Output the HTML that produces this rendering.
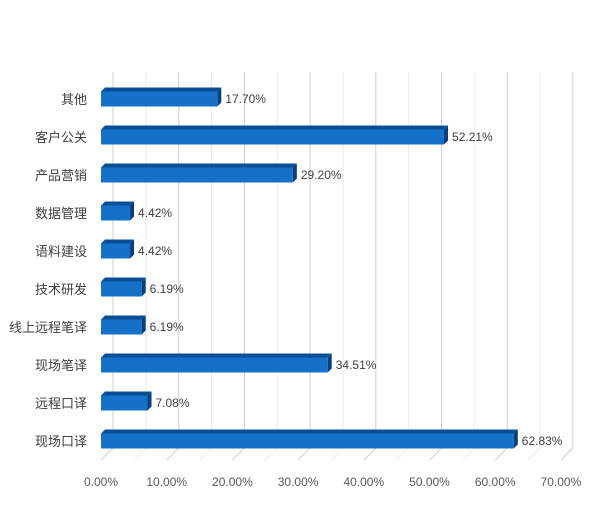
<!DOCTYPE html>
<html><head><meta charset="utf-8"><style>
body{margin:0;background:#fff}
svg{font-family:"Liberation Sans","Noto Sans CJK SC",sans-serif}
</style></head><body>
<svg id="c" width="600" height="510"></svg>
<script>
const categories=["其他","客户公关","产品营销","数据管理","语料建设","技术研发","线上远程笔译","现场笔译","远程口译","现场口译"];
const values=[17.70,52.21,29.20,4.42,4.42,6.19,6.19,34.51,7.08,62.83];
const ticks=[0,10,20,30,40,50,60,70];
const NS="http://www.w3.org/2000/svg";
const svg=document.getElementById('c');
const x0=101,pxPer=6.57,dx=12,dy=-12,yTop=84,yFloor=460,row=38,y0=99,bh=15,d=4;
const X=v=>x0+v*pxPer;
const Y=i=>y0+i*row;
function mk(t,a,p){const e=document.createElementNS(NS,t);for(const k in a)e.setAttribute(k,a[k]);(p||svg).appendChild(e);return e;}
const grid=mk('g',{});


for(let v=0;v<=70;v+=5){
  const major=v%10===0;
  const l=mk('line',{x1:X(v)+dx,y1:yTop-12,x2:X(v)+dx,y2:yFloor+dy,stroke:major?'#d0d0d0':'#ececec','stroke-width':1},grid);
  const f=mk('line',{x1:X(v)+dx,y1:yFloor+dy,x2:X(v),y2:yFloor,stroke:major?'#d0d0d0':'#ececec','stroke-width':1},grid);
}
ticks.forEach(t=>{
  const tx=mk('text',{x:X(t),y:486,'text-anchor':'middle','font-size':12,fill:'#595959'});
  tx.textContent=t.toFixed(2)+'%';
  
  
});
categories.forEach((c,i)=>{
  const y=Y(i),w=values[i]*pxPer,top=y-bh/2;
  const g=mk('g',{});
  
  
  mk('polygon',{points:`${x0},${top} ${x0+d},${top-d} ${x0+w+d},${top-d} ${x0+w},${top}`,fill:'#0a4f96'},g);
  mk('polygon',{points:`${x0+w},${top} ${x0+w+d},${top-d} ${x0+w+d},${top+bh-d} ${x0+w},${top+bh}`,fill:'#083f78'},g);
  mk('rect',{x:x0,y:top,width:w,height:bh,fill:'#1470c8'},g);
  const lb=mk('text',{x:x0+w+d+4,y:y+4,'font-size':12,fill:'#404040'});
  lb.textContent=values[i].toFixed(2)+'%';
  
  
  const cl=mk('text',{x:87,y:y+5,'text-anchor':'end','font-size':13,fill:'#404040'});
  cl.textContent=c;
  
  
});
</script>
</body></html>
